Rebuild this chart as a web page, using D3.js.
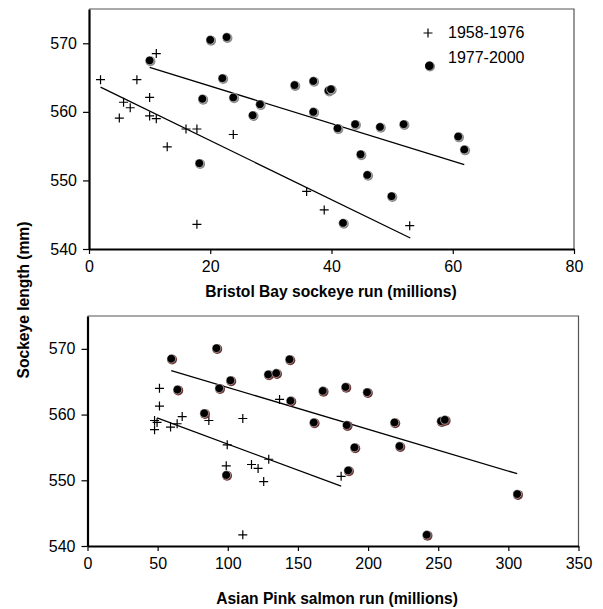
<!DOCTYPE html>
<html>
<head>
<meta charset="utf-8">
<script src="https://cdn.jsdelivr.net/npm/d3@7"></script>
<style>
  body { margin: 0; background: #fff; }
  svg text { font-family: "Liberation Sans", Arial, sans-serif; fill: #000; }
  .tick text { font-size: 16px; }
  .title { font-size: 15.6px; font-weight: bold; }
</style>
</head>
<body>
<div id="root"></div>
<script>
// Bristol Bay panel: run size (millions) vs mean length (mm)
const bristolEarlyX = [1.9, 11.1, 7.9, 10.0, 5.7, 6.8, 5.0, 10.0, 11.1, 16.0, 17.8, 23.8, 12.9, 35.9, 38.8, 17.8, 52.9]
const bristolEarlyY = [564.7, 568.5, 564.7, 562.1, 561.4, 560.6, 559.1, 559.4, 559.0, 557.5, 557.5, 556.7, 554.9, 548.4, 545.7, 543.6, 543.4]
const bristolLateX = [10.0, 20.0, 22.7, 22.0, 18.7, 23.8, 28.2, 27.0, 18.2, 33.9, 37.0, 37.0, 39.5, 39.9, 41.0, 43.9, 48.0, 51.9, 44.8, 45.9, 49.9, 41.9, 60.9, 61.9]
const bristolLateY = [567.5, 570.5, 570.9, 564.9, 561.9, 562.1, 561.1, 559.5, 552.5, 563.9, 564.5, 560.0, 563.1, 563.3, 557.6, 558.2, 557.8, 558.2, 553.8, 550.8, 547.7, 543.8, 556.4, 554.5]
// fitted lines, end points
const bristolEarlyFit = [[1.9, 563.6], [53.0, 541.6]]
const bristolLateFit = [[10.0, 566.5], [61.9, 552.3]]

// Asian pink salmon panel
const pinkEarlyX = [51.3, 51.3, 47.8, 49.6, 47.8, 59.2, 63.9, 67.5, 86.5, 110.7, 136.9, 99.6, 98.9, 116.9, 121.6, 129.2, 125.6, 110.7, 180.8]
const pinkEarlyY = [564.0, 561.3, 559.1, 558.8, 557.7, 558.1, 558.6, 559.7, 559.1, 559.4, 562.3, 555.4, 552.2, 552.4, 551.8, 553.2, 549.8, 541.7, 550.6]
const pinkLateX = [59.7, 91.9, 144.0, 64.1, 101.9, 93.9, 128.8, 134.5, 144.7, 167.7, 83.2, 161.3, 98.9, 183.9, 199.3, 184.8, 218.8, 222.4, 190.3, 185.8, 252.0, 254.7, 306.3, 241.8]
const pinkLateY = [568.5, 570.1, 568.4, 563.8, 565.2, 564.0, 566.1, 566.3, 562.1, 563.6, 560.2, 558.8, 550.8, 564.2, 563.4, 558.4, 558.8, 555.2, 555.0, 551.5, 559.0, 559.2, 547.9, 541.7]
const pinkEarlyFit = [[49.6, 559.5], [180.8, 549.1]]
const pinkLateFit = [[59.7, 566.7], [306.3, 551.0]]

const yTicks = [540, 550, 560, 570]
const bristolTicks = [0, 20, 40, 60, 80]
const pinkTicks = [0, 50, 100, 150, 200, 250, 300, 350]
const legendLabels = ['1958-1976', '1977-2000']

const W = 603, H = 609

const svg = d3.select('#root')
    .append('svg')
    .attr('width', W)
    .attr('height', H)

const plusPath = 'M-4.5,0H4.5M0,-4.5V4.5'

function zip(xs, ys) {
    return xs.map(function(x, i) { return [x, ys[i]] })
}

function panel(opts) {
    const x = d3.scaleLinear().domain(opts.xDomain).range([opts.left, opts.right])
    const y = d3.scaleLinear().domain([540, 575]).range([opts.bottom, opts.top])
    const g = svg.append('g')

    // light frame on top / right
    g.append('path')
        .attr('d', `M${opts.left},${opts.top}H${opts.right}V${opts.bottom}`)
        .attr('fill', 'none')
        .attr('stroke', '#555')
        .attr('stroke-width', 1.2)

    const xAxis = g.append('g')
        .attr('transform', `translate(0,${opts.bottom})`)
        .call(d3.axisBottom(x).tickValues(opts.xTicks).tickSize(5).tickSizeOuter(0).tickPadding(7))
    const yAxis = g.append('g')
        .attr('transform', `translate(${opts.left},0)`)
        .call(d3.axisLeft(y).tickValues(yTicks).tickSize(6).tickSizeOuter(0).tickPadding(6))
    ;[xAxis, yAxis].forEach(function(a) {
        a.select('.domain').attr('stroke-width', 2.2)
        a.selectAll('.tick line').attr('stroke-width', 1.2)
    })

    g.append('text')
        .attr('class', 'title')
        .attr('x', opts.titleX)
        .attr('y', opts.titleY)
        .attr('text-anchor', 'middle')
        .text(opts.title)

    const line = d3.line().x(d => x(d[0])).y(d => y(d[1]))
    ;[opts.earlyFit, opts.lateFit].forEach(function(f) {
        g.append('path')
            .attr('d', line(f))
            .attr('fill', 'none')
            .attr('stroke', '#000')
            .attr('stroke-width', 1.3)
    })

    g.selectAll('.plus')
        .data(opts.early)
        .enter()
        .append('path')
        .attr('class', 'plus')
        .attr('d', plusPath)
        .attr('transform', d => `translate(${x(d[0])},${y(d[1])})`)
        .attr('stroke', '#000')
        .attr('stroke-width', 1.2)

    const dots = g.selectAll('.dot')
        .data(opts.late)
        .enter()
        .append('g')
        .attr('class', 'dot')
        .attr('transform', d => `translate(${x(d[0])},${y(d[1])})`)
    dots.append('circle')
        .attr('cx', 0.8).attr('cy', 0.8).attr('r', 5)
        .attr('fill', opts.ring)
    dots.append('circle')
        .attr('r', 4.3)
        .attr('fill', '#000')
        .attr('stroke', '#fff')
        .attr('stroke-width', 0.5)

    return g
}

const topPanel = panel({
    left: 89, right: 574, top: 9, bottom: 249,
    xDomain: [0, 80], xTicks: bristolTicks,
    early: zip(bristolEarlyX, bristolEarlyY),
    late: zip(bristolLateX, bristolLateY),
    earlyFit: bristolEarlyFit, lateFit: bristolLateFit,
    ring: '#888',
    title: 'Bristol Bay sockeye run (millions)', titleX: 331, titleY: 297
})

panel({
    left: 87.5, right: 578.5, top: 316, bottom: 546,
    xDomain: [0, 350], xTicks: pinkTicks,
    early: zip(pinkEarlyX, pinkEarlyY),
    late: zip(pinkLateX, pinkLateY),
    earlyFit: pinkEarlyFit, lateFit: pinkLateFit,
    ring: '#6b3030',
    title: 'Asian Pink salmon run (millions)', titleX: 337, titleY: 604
})

// legend (top panel)
const legend = topPanel.append('g')
legend.append('path')
    .attr('d', plusPath)
    .attr('transform', 'translate(428,33)')
    .attr('stroke', '#000')
    .attr('stroke-width', 1.2)
legend.append('circle').attr('cx', 430).attr('cy', 66.5).attr('r', 5).attr('fill', '#888')
legend.append('circle').attr('cx', 429.3).attr('cy', 65.7).attr('r', 4.3).attr('fill', '#000')
legend.selectAll('text')
    .data(legendLabels)
    .enter()
    .append('text')
    .attr('x', 448)
    .attr('y', (d, i) => 32 + i * 25.5)
    .attr('dy', '0.35em')
    .style('font-size', '16px')
    .text(d => d)

// shared y title
svg.append('text')
    .attr('class', 'title')
    .attr('transform', 'translate(29,300) rotate(-90)')
    .attr('text-anchor', 'middle')
    .text('Sockeye length (mm)')
</script>
</body>
</html>
